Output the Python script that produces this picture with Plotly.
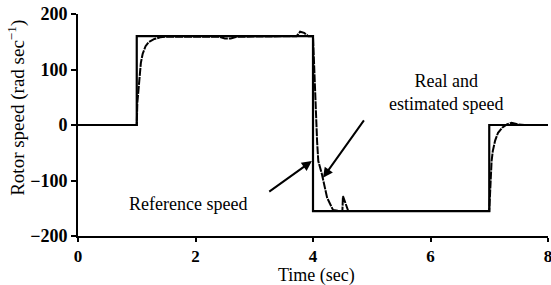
import plotly.graph_objects as go

# Reference speed (step profile)
ref_time = [0, 1, 1, 4, 4, 7, 7, 8]
ref_speed = [0, 0, 160, 160, -155, -155, 0, 0]

# Real and estimated speed
est_time = [0, 1.0, 1.01, 1.04, 1.07, 1.1, 1.15, 1.2, 1.3, 1.4, 1.5, 2.4, 2.5, 2.6, 2.7,
            3.72, 3.78, 3.85, 3.92, 4.0, 4.02, 4.05, 4.07, 4.09, 4.15, 4.24, 4.34, 4.45, 4.5,
            4.51, 4.6, 7.0, 7.02, 7.04, 7.06, 7.1, 7.15, 7.22, 7.3, 7.38, 7.5, 7.6, 8.0]
est_speed = [0, 0, 40, 85, 112, 128, 142, 149, 155, 158, 159, 159, 156, 156, 159,
             160, 168, 166, 160, 160, 100, 20, -30, -65, -88, -131, -153, -155, -155,
             -128, -155, -155, -100, -65, -47, -28, -14, -5, 1, 4, 1, 0, 0]

x_ticks = [0, 2, 4, 6, 8]
y_ticks = [-200, -100, 0, 100, 200]

FONT = "Liberation Serif"

fig = go.Figure()
fig.add_trace(go.Scatter(x=ref_time, y=ref_speed, mode="lines",
                         line=dict(color="black", width=2.2), showlegend=False))
fig.add_trace(go.Scatter(x=est_time, y=est_speed, mode="lines",
                         line=dict(color="black", width=2, dash="8px,1px"), showlegend=False))

fig.add_annotation(x=4.17, y=-95, ax=4.885, ay=11, xref="x", yref="y", axref="x", ayref="y",
                   showarrow=True, arrowhead=2, arrowsize=1, arrowwidth=2, arrowcolor="black", text="")
fig.add_annotation(x=3.98, y=-65, ax=3.23, ay=-122, xref="x", yref="y", axref="x", ayref="y",
                   showarrow=True, arrowhead=2, arrowsize=1, arrowwidth=2, arrowcolor="black", text="")
fig.add_annotation(x=6.27, y=58, xref="x", yref="y", showarrow=False,
                   text="Real and<br>estimated speed", align="center",
                   font=dict(family=FONT, size=18, color="black"))
fig.add_annotation(x=1.87, y=-142, xref="x", yref="y", showarrow=False,
                   text="Reference speed", font=dict(family=FONT, size=18, color="black"))

# axis titles
fig.add_annotation(x=0.5085, y=-0.178, xref="paper", yref="paper", showarrow=False,
                   xanchor="center", yanchor="middle",
                   text="Time (sec)", font=dict(family=FONT, size=18, color="black"))
fig.add_annotation(x=-0.13, y=0.577, xref="paper", yref="paper", showarrow=False,
                   xanchor="center", yanchor="middle", textangle=-90,
                   text="Rotor speed (rad sec<sup>−1</sup>)",
                   font=dict(family=FONT, size=19, color="black"))

fig.update_xaxes(range=[0, 8], tickvals=x_ticks, ticks="outside", ticklen=4, tickwidth=2,
                 tickcolor="black", showline=True, linewidth=2, linecolor="black",
                 showgrid=False, zeroline=False, automargin=False, ticklabeloverflow="allow",
                 tickfont=dict(family=FONT, size=17, color="black", weight="bold"))
fig.update_yaxes(range=[-200, 200], tickvals=y_ticks, ticks="outside", ticklen=5, tickwidth=2,
                 tickcolor="black", showline=True, linewidth=2, linecolor="black",
                 showgrid=False, zeroline=False, automargin=False,
                 tickfont=dict(family=FONT, size=18, color="black", weight="bold"))

fig.update_layout(width=551, height=285, margin=dict(l=78, r=3, t=14, b=49),
                  plot_bgcolor="white", paper_bgcolor="white",
                  font=dict(family=FONT))
fig.write_html("out.html", config={"displayModeBar": False},
               post_script="document.body.style.margin='0';")
